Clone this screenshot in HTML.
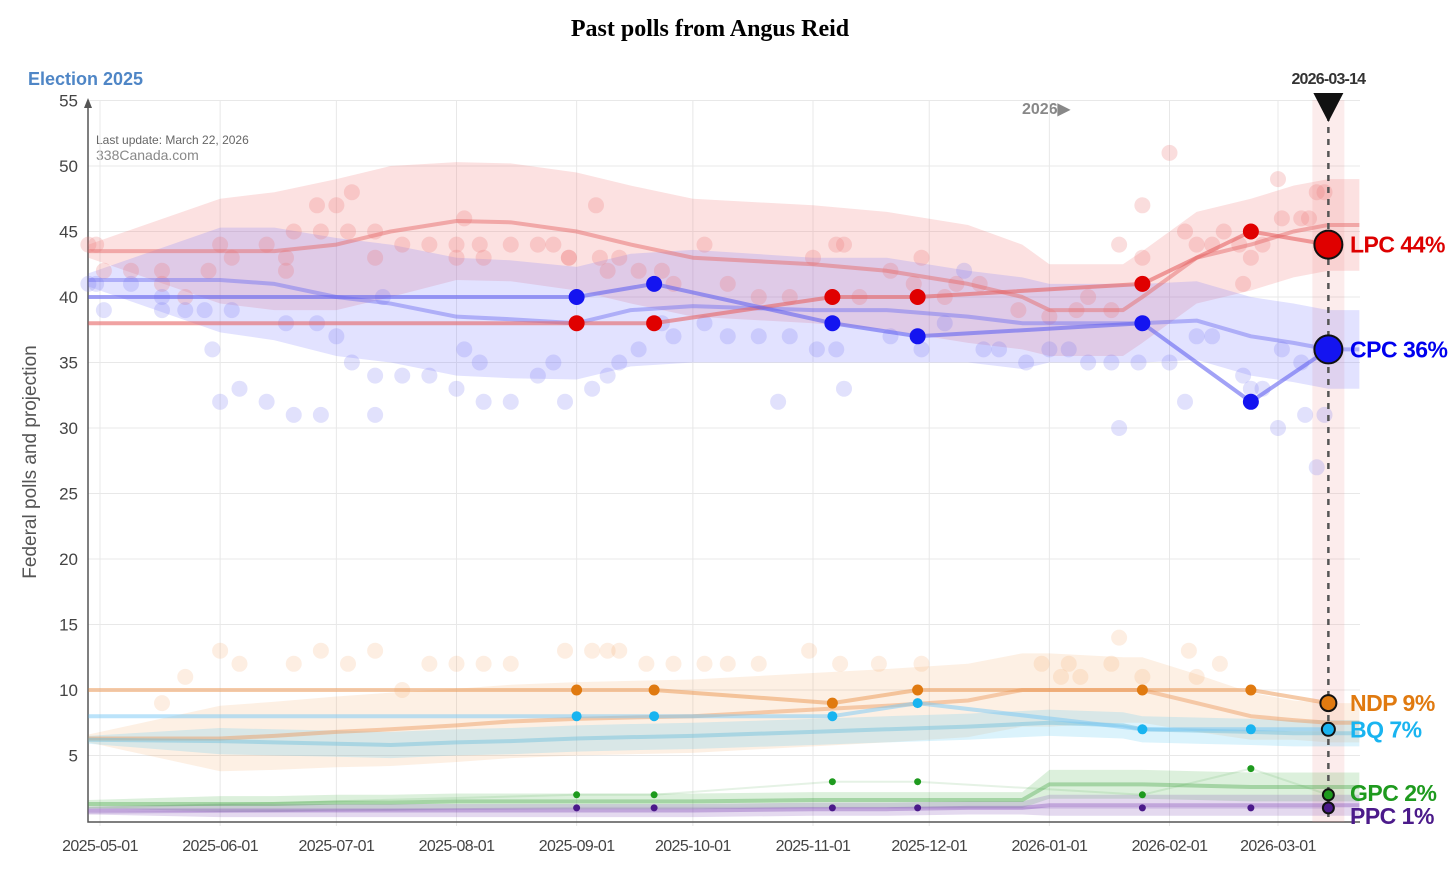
<!DOCTYPE html>
<html><head><meta charset="utf-8"><style>
body{margin:0;background:#fff;width:1456px;height:884px;overflow:hidden}
svg{display:block}
</style></head><body>
<svg id="chart" width="1456" height="884" xmlns="http://www.w3.org/2000/svg" font-family="Liberation Sans, sans-serif">
<text x="710" y="36" text-anchor="middle" font-family="Liberation Serif, serif" font-weight="bold" font-size="24">Past polls from Angus Reid</text>
<text x="28" y="85" fill="#4f86c6" font-weight="bold" font-size="18">Election 2025</text>
<text x="96" y="144" fill="#666" font-size="12">Last update: March 22, 2026</text>
<text x="96" y="160" fill="#888" font-size="14">338Canada.com</text>
<text transform="translate(36,462) rotate(-90)" text-anchor="middle" fill="#555" font-size="19">Federal polls and projection</text>
<text x="1022" y="114" fill="#888" font-weight="bold" font-size="16">2026▶</text>
<g id="grid"></g><g id="bands"></g><g id="dots"></g><g id="lines"></g><g id="marks"></g><g id="labels"></g>
</svg>
<script>
const tickDays=[0,31,61,92,123,153,184,214,245,276,304];
const tickLabels=["2025-05-01","2025-06-01","2025-07-01","2025-08-01","2025-09-01","2025-10-01","2025-11-01","2025-12-01","2026-01-01","2026-02-01","2026-03-01"];
const yTicks=[5,10,15,20,25,30,35,40,45,50,55];
const pollDays=[-3,123,143,189,211,269,297,317];
const lpcPoll=[38,38,38,40,40,41,45,44];
const cpcPoll=[40,40,41,38,37,38,32,36];
const ndpPoll=[10,10,10,9,10,10,10,9];
const bqPoll=[8,8,8,8,9,7,7,7];
const gpcPoll=[1,2,2,3,3,2,4,2];
const ppcPoll=[0.6,1,1,1,1,1,1,1];
const projDays=[-3,31,45,61,75,92,106,123,137,153,184,203,224,238,245,264,269,283,297,308,317,325];
const lpcProj=[43.5,43.5,43.5,44,45,45.8,45.7,45,44,43,42.5,42,41,40,39,39,40,43,44,45,45.5,45.5];
const lpcBand=[0.5,4,4.5,5,5,4.5,4.5,4.5,4.5,4.5,4.5,4.5,4.5,4,3.5,3.5,3.5,3.5,3.5,3.5,3.5,3.5];
const cpcProj=[41.3,41.3,41,40,39.5,38.5,38.3,38,39,39.3,39,39,38.5,38,38,38,38,38.2,37,36.5,36,36];
const cpcBand=[0.5,4,4.3,4.5,4.5,4.5,4.5,4.3,4.3,4.3,4,4,3.5,3.5,3,3,3,3,3,3,3,3];
const ndpProj=[6.3,6.3,6.5,6.8,7,7.3,7.6,7.8,7.9,8,8.5,8.8,9.2,10,10,10,10,9,8,7.7,7.5,7.5];
const ndpBand=[0.3,2.5,2.6,2.7,2.8,2.8,2.8,2.8,2.8,2.8,2.8,2.8,2.8,2.8,2.8,2.5,2.5,2.2,1.8,1.5,1.5,1.5];
const bqProj=[6.2,6.1,6,5.9,5.8,6,6.1,6.3,6.4,6.5,6.8,7,7.2,7.4,7.5,7.3,7,6.9,6.8,6.7,6.7,6.7];
const bqBand=[0.3,1,1,1,1,1,1,1,1,1,1,1,1,1,1,1,1,1,1,1,1,1];
const gpcProj=[1.3,1.3,1.3,1.4,1.4,1.5,1.5,1.5,1.5,1.5,1.6,1.6,1.6,1.6,2.8,2.8,2.8,2.7,2.6,2.6,2.6,2.6];
const gpcBand=[0.3,0.6,0.6,0.6,0.6,0.6,0.6,0.6,0.6,0.6,0.6,0.6,0.6,0.6,1.1,1.1,1.1,1.1,1.1,1.1,1.1,1.1];
const ppcProj=[0.8,0.8,0.8,0.8,0.8,0.8,0.8,0.8,0.8,0.8,0.9,0.9,1,1,1.2,1.2,1.2,1.2,1.2,1.2,1.2,1.2];
const ppcBand=[0.3,0.5,0.5,0.5,0.5,0.5,0.5,0.5,0.5,0.5,0.5,0.5,0.5,0.5,0.8,0.8,0.8,0.8,0.8,0.8,0.8,0.8];
const lpcDotDays=[-3,-1,1,8,16,16,22,28,31,34,43,48,48,50,56,57,61,64,65,71,71,78,85,92,92,94,98,99,106,113,117,121,121,128,129,131,134,139,145,148,156,162,170,178,184,190,192,196,204,210,212,218,221,227,237,245,252,255,261,263,269,269,276,280,283,287,290,294,295,297,300,304,305,310,312,314,316];
const lpcDotVals=[44,44,42,42,42,41,40,42,44,43,44,43,42,45,47,45,47,45,48,43,45,44,44,44,43,46,44,43,44,44,44,43,43,47,43,42,43,42,42,41,44,41,40,40,43,44,44,40,42,41,43,40,41,41,39,38.5,39,40,39,44,43,47,51,45,44,44,45,44,41,43,44,49,46,46,46,48,48];
const cpcDotDays=[-3,-1,1,8,16,16,22,27,29,31,34,36,43,48,50,56,57,61,65,71,71,73,78,85,92,94,98,99,106,113,117,120,127,131,134,139,145,148,156,162,170,175,178,185,190,192,204,212,218,223,228,232,239,245,250,255,261,263,268,276,280,283,287,295,297,300,304,305,310,311,314,316];
const cpcDotVals=[41,41,39,41,40,39,39,39,36,32,39,33,32,38,31,38,31,37,35,34,31,40,34,34,33,36,35,32,32,34,35,32,33,34,35,36,38,37,38,37,37,32,37,36,36,33,37,36,38,42,36,36,35,36,36,35,35,30,35,35,32,37,37,34,33,33,30,36,35,31,27,31];
const ndpDotDays=[31,36,50,57,64,71,85,92,99,106,120,127,131,134,141,148,156,162,170,183,191,201,212,243,250,261,263,281,289,283,22,16,78,269,253,248];
const ndpDotVals=[13,12,12,13,12,13,12,12,12,12,13,13,13,13,12,12,12,12,12,13,12,12,12,12,12,12,14,13,12,11,11,9,10,11,11,11];

const X0=100,PXD=3.875,Y0=821,PXU=13.1;
const x=d=>X0+d*PXD, y=v=>Y0-v*PXU;
const NS="http://www.w3.org/2000/svg";
function mk(tag,attrs,parent){const e=document.createElementNS(NS,tag);for(const k in attrs)e.setAttribute(k,attrs[k]);document.getElementById(parent).appendChild(e);return e;}

yTicks.forEach(v=>{
 const l=mk('line',{x1:88,x2:1360,y1:y(v),y2:y(v),stroke:'#e8e8e8','stroke-width':1},'grid');
 
 
 const t=mk('text',{x:78,y:y(v)+6,'text-anchor':'end','font-size':17,fill:'#444'},'grid');
 t.textContent=v;
 
 
});
tickDays.forEach((d,i)=>{
 const l=mk('line',{x1:x(d),x2:x(d),y1:100,y2:826,stroke:'#e8e8e8','stroke-width':1},'grid');
 
 
 const t=mk('text',{x:x(d),y:851,'text-anchor':'middle','font-size':16,fill:'#444','letter-spacing':'-0.6'},'grid');
 t.textContent=tickLabels[i];
 
 
});
const ax=mk('path',{d:'M88,105 L88,822 L1360,822',fill:'none',stroke:'#555','stroke-width':1.5},'grid');


const arr=mk('path',{d:'M84,108 L88,98 L92,108 Z',fill:'#555'},'grid');


const hl=mk('rect',{x:x(317)-16,y:100,width:32,height:722,fill:'rgba(240,150,150,0.18)'},'grid');



function band(mid,w,fill,name){
 let p='M'+projDays.map((d,i)=>x(d)+','+y(mid[i]+w[i])).join(' L');
 p+=' L'+projDays.map((d,i)=>x(d)+','+y(Math.max(0,mid[i]-w[i]))).reverse().join(' L')+' Z';
 const e=mk('path',{d:p,fill:fill},'bands');
 
 
}
band(lpcProj,lpcBand,'rgba(240,120,120,0.22)','lpc-band');
band(cpcProj,cpcBand,'rgba(110,110,255,0.2)','cpc-band');
band(ndpProj,ndpBand,'rgba(240,160,90,0.16)','ndp-band');
band(bqProj,bqBand,'rgba(90,200,240,0.22)','bq-band');
band(gpcProj,gpcBand,'rgba(60,170,60,0.18)','gpc-band');
band(ppcProj,ppcBand,'rgba(130,80,180,0.22)','ppc-band');

function dots(days,vals,fill,r,name){
 days.forEach((d,i)=>{
  const c=mk('circle',{cx:x(d),cy:y(vals[i]),r:r,fill:fill},'dots');
  
  
 });
}
dots(lpcDotDays,lpcDotVals,'rgba(235,120,120,0.25)',8,'lpc-poll-dot');
dots(cpcDotDays,cpcDotVals,'rgba(120,120,240,0.22)',8,'cpc-poll-dot');
dots(ndpDotDays,ndpDotVals,'rgba(245,170,110,0.2)',8,'ndp-poll-dot');

function line(days,vals,stroke,wd,name){
 const e=mk('path',{d:'M'+days.map((d,i)=>x(d)+','+y(vals[i])).join(' L'),fill:'none',stroke:stroke,'stroke-width':wd,'stroke-linejoin':'round'},'lines');
 
 
}
line(projDays,lpcProj,'rgba(230,110,110,0.5)',4,'lpc-projection-line');
line(projDays,cpcProj,'rgba(110,110,240,0.45)',4,'cpc-projection-line');
line(projDays,ndpProj,'rgba(235,150,90,0.45)',4,'ndp-projection-line');
line(projDays,bqProj,'rgba(110,190,220,0.45)',4,'bq-projection-line');
line(projDays,gpcProj,'rgba(80,170,80,0.4)',4,'gpc-projection-line');
line(projDays,ppcProj,'rgba(140,90,190,0.4)',4,'ppc-projection-line');
line(pollDays,lpcPoll,'rgba(230,100,100,0.6)',4,'lpc-poll-line');
line(pollDays,cpcPoll,'rgba(100,100,240,0.6)',4,'cpc-poll-line');
line(pollDays,ndpPoll,'rgba(235,150,80,0.5)',4,'ndp-poll-line');
line(pollDays,bqPoll,'rgba(120,200,245,0.5)',4,'bq-poll-line');
line(pollDays,gpcPoll,'rgba(80,170,80,0.15)',2,'gpc-poll-line');
line(pollDays,ppcPoll,'rgba(130,80,180,0.15)',2,'ppc-poll-line');

const vl=mk('line',{x1:x(317),x2:x(317),y1:115,y2:820,stroke:'#555','stroke-width':2.5,'stroke-dasharray':'6,6'},'marks');


const tri=mk('path',{d:`M${x(317)-15},93 L${x(317)+15},93 L${x(317)},122 Z`,fill:'#111'},'marks');


const dl=mk('text',{x:x(317),y:84,'text-anchor':'middle','font-size':16,'font-weight':'bold',fill:'#333','letter-spacing':'-0.8'},'marks');
dl.textContent='2026-03-14';



function marks(vals,fill,r,rLast,name){
 pollDays.forEach((d,i)=>{
  if(i===0)return;
  const last=i===pollDays.length-1;
  const c=mk('circle',{cx:x(d),cy:y(vals[i]),r:last?rLast:r,fill:fill,stroke:last?'#111':'none','stroke-width':2},'marks');
  
  
 });
}
marks(lpcPoll,'#e00000',8,14,'lpc-poll-marker');
marks(cpcPoll,'#1414f0',8,14,'cpc-poll-marker');
marks(ndpPoll,'#e07a10',5.5,8,'ndp-poll-marker');
marks(bqPoll,'#19b4f0',5,6.5,'bq-poll-marker');
marks(gpcPoll,'#1e9a1e',3.5,5.5,'gpc-poll-marker');
marks(ppcPoll,'#4b1a8a',3.5,5.5,'ppc-poll-marker');

const partyNames=["LPC 44%","CPC 36%","NDP 9%","BQ 7%","GPC 2%","PPC 1%"];
const partyVals=[44,36,9,7,2,1];
const partyColors=['#dd0000','#0000ee','#e07a10','#19b4f0','#1e9a1e','#4b1a8a'];
const labelShift=[0,0,0,0,0.15,-0.6];
partyNames.forEach((n,i)=>{
 const t=mk('text',{x:1350,y:y(partyVals[i]+labelShift[i])+8,'font-size':23,'font-weight':'bold',fill:partyColors[i],'letter-spacing':'-0.5'},'labels');
 t.textContent=n;
 
 
});
</script>
</body></html>
